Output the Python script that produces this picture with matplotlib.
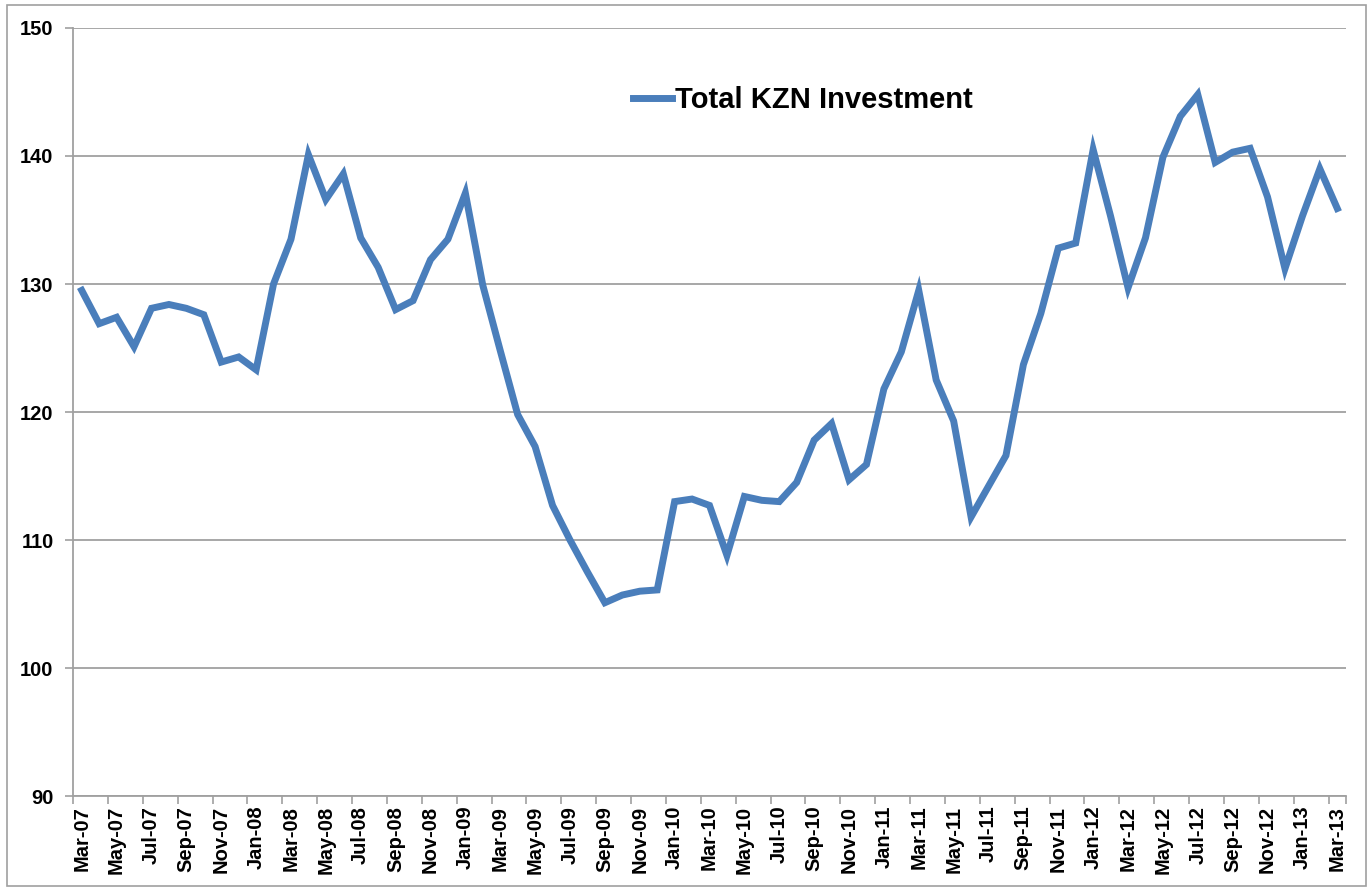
import matplotlib
matplotlib.use('Agg')
import matplotlib.pyplot as plt
from matplotlib.patches import Rectangle
from matplotlib.ticker import FixedLocator

# ---------------------------------------------------------------- DATA
months = ['Mar-07', 'Apr-07', 'May-07', 'Jun-07', 'Jul-07', 'Aug-07', 'Sep-07', 'Oct-07', 'Nov-07', 'Dec-07',
          'Jan-08', 'Feb-08', 'Mar-08', 'Apr-08', 'May-08', 'Jun-08', 'Jul-08', 'Aug-08', 'Sep-08', 'Oct-08',
          'Nov-08', 'Dec-08', 'Jan-09', 'Feb-09', 'Mar-09', 'Apr-09', 'May-09', 'Jun-09', 'Jul-09', 'Aug-09',
          'Sep-09', 'Oct-09', 'Nov-09', 'Dec-09', 'Jan-10', 'Feb-10', 'Mar-10', 'Apr-10', 'May-10', 'Jun-10',
          'Jul-10', 'Aug-10', 'Sep-10', 'Oct-10', 'Nov-10', 'Dec-10', 'Jan-11', 'Feb-11', 'Mar-11', 'Apr-11',
          'May-11', 'Jun-11', 'Jul-11', 'Aug-11', 'Sep-11', 'Oct-11', 'Nov-11', 'Dec-11', 'Jan-12', 'Feb-12',
          'Mar-12', 'Apr-12', 'May-12', 'Jun-12', 'Jul-12', 'Aug-12', 'Sep-12', 'Oct-12', 'Nov-12', 'Dec-12',
          'Jan-13', 'Feb-13', 'Mar-13']

investment = [129.5, 126.9, 127.4, 125.1, 128.1, 128.4, 128.1, 127.6, 123.9, 124.3,
              123.3, 130.0, 133.5, 140.1, 136.6, 138.6, 133.6, 131.3, 128.0, 128.7,
              131.9, 133.5, 137.1, 129.9, 124.8, 119.8, 117.3, 112.7, 110.0, 107.5,
              105.1, 105.7, 106.0, 106.1, 113.0, 113.2, 112.7, 108.8, 113.4, 113.1,
              113.0, 114.5, 117.8, 119.1, 114.7, 115.9, 121.8, 124.7, 129.5, 122.5,
              119.3, 111.8, 114.2, 116.6, 123.7, 127.7, 132.8, 133.2, 140.5, 135.3,
              129.7, 133.6, 139.9, 143.1, 144.8, 139.5, 140.3, 140.6, 136.8, 131.2,
              135.3, 139.0, 135.9]

series_label = 'Total KZN Investment'
y_ticks = [90, 100, 110, 120, 130, 140, 150]

# ---------------------------------------------------------------- PLOT
plt.rcParams['font.family'] = ['Liberation Sans', 'DejaVu Sans']
plt.rcParams['font.weight'] = 'bold'

W, H = 1367, 888
fig = plt.figure(figsize=(W / 100, H / 100), dpi=100)
ax = fig.add_axes([73 / W, 1 - 796 / H, (1346 - 73) / W, (796 - 28) / H])

x = list(range(len(months)))
ax.plot(x, investment, color='#4A7EBB', linewidth=5,
        solid_joinstyle='miter', label=series_label, zorder=3)

ax.set_xlim(-0.5, len(months) - 0.5)
ax.set_ylim(90, 150)

grid_col = '#A0A0A0'
ax.set_yticks(y_ticks)
ax.yaxis.grid(True, color=grid_col, linewidth=1.3)
ax.set_axisbelow(True)

# labels on every other month, tick marks on category boundaries
ax.set_xticks(x[::2])
ax.set_xticklabels(months[::2], rotation=90, fontweight='bold', fontsize=14.5)
ax.xaxis.set_minor_locator(FixedLocator([i - 0.5 for i in x[::2]] + [len(months) - 0.5]))
ax.tick_params(axis='x', which='major', length=0, pad=7)
ax.tick_params(axis='x', which='minor', length=6, width=1.2, color=grid_col)
ax.tick_params(axis='y', length=6, width=1.2, color=grid_col, pad=8, labelsize=14.5)

for side in ['top', 'right']:
    ax.spines[side].set_visible(False)
for side in ['left', 'bottom']:
    ax.spines[side].set_color(grid_col)
    ax.spines[side].set_linewidth(1.3)

ax.legend(loc='center left', bbox_to_anchor=(560 / 1273, 1 - 72 / 768), frameon=False,
          handlelength=1.35, handletextpad=0.08, borderpad=0, borderaxespad=0,
          prop={'family': 'Liberation Sans', 'weight': 'bold', 'size': 21})

# outer chart border
fig.add_artist(Rectangle((7 / W, 2 / H), (1366 - 7) / W, (883 - 2) / H,
                         transform=fig.transFigure, fill=False,
                         edgecolor='#A0A0A0', linewidth=1.2))

plt.savefig('out.png', dpi=100)
